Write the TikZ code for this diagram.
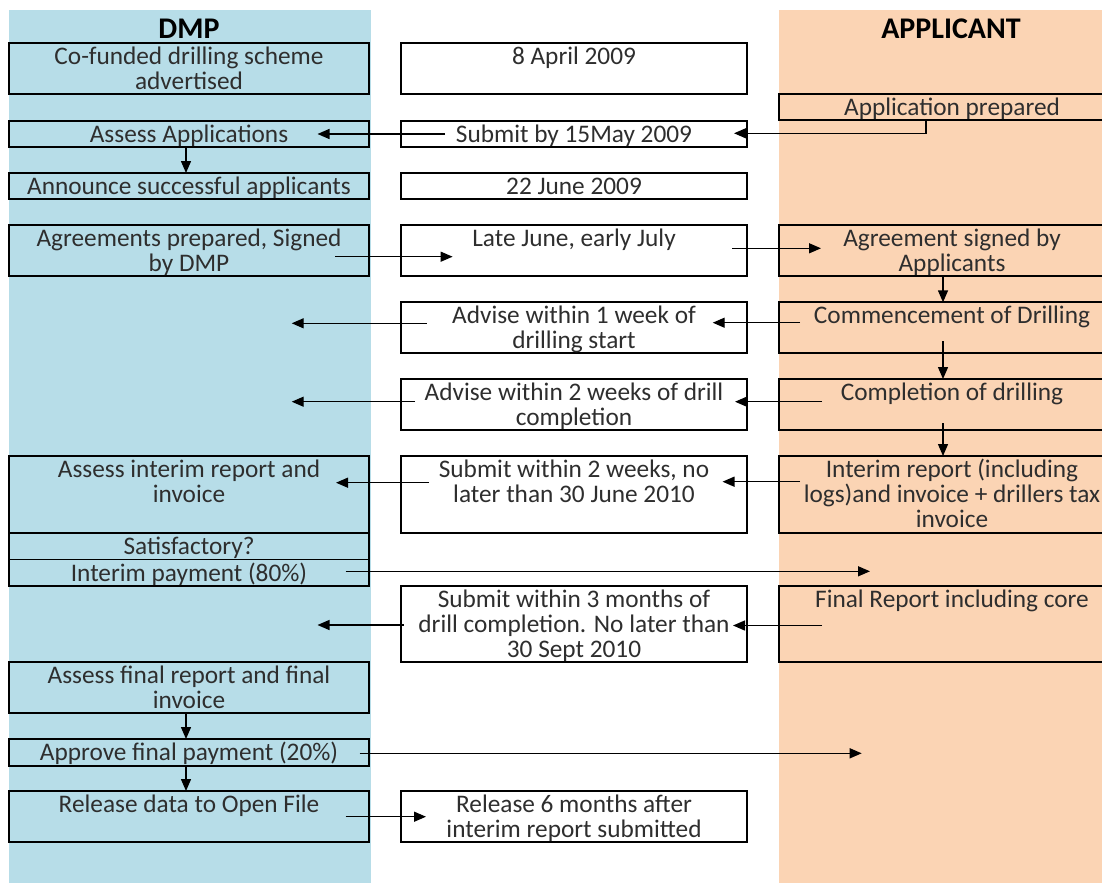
\documentclass[tikz,border=0pt]{standalone}
\usepackage{fontspec}
\setmainfont{Carlito}
\usetikzlibrary{arrows.meta}
\definecolor{dmpblue}{HTML}{B7DDE8}
\definecolor{appor}{HTML}{FBD4B4}
\definecolor{txtgray}{HTML}{2E2E2E}
\newcommand\cellbox[6]{%
  \node[cell, minimum width={#4-#2}, minimum height={#5-#3}] (#1) at ({(#2+#4)/2},{(#3+#5)/2}) {};
  \node[txt] (#1t) at ({(#2+#4)/2},{#3+2.5}) {\rule{0pt}{19pt}#6};
}
\begin{document}
\begin{tikzpicture}[x=1pt,y=-1pt,
  cell/.style={draw=black, line width=1.7pt, inner sep=0pt, outer sep=0pt},
  txt/.style={inner sep=0pt, outer sep=0pt, align=center, text=txtgray, font=\fontsize{25.3}{25}\selectfont, anchor=north},
  head/.style={inner sep=0pt, font=\bfseries\fontsize{30}{30}\selectfont, text=black},
  arr/.style={line width=1.4pt, draw=black, -{Triangle[length=12pt,width=10pt]}},
]
\clip (0,0) rectangle (1102,883);
\fill[white] (0,0) rectangle (1102,883);
\fill[dmpblue] (9,10) rectangle (371,883);
\fill[appor] (779,10) rectangle (1102,883);

\node[head] (hdmp) at (189,28.5) {DMP};
\node[head] (happ) at (951,28.5) {APPLICANT};

% left column
\cellbox{L1}{9}{43.3}{369}{94.3}{Co-funded drilling scheme\\advertised}
\cellbox{L2}{9}{120.7}{369}{146.7}{Assess Applications}
\cellbox{L3}{9}{173}{369}{199}{Announce successful applicants}
\cellbox{L4}{9}{225}{369}{276}{Agreements prepared, Signed\\by DMP}
\cellbox{L7}{9}{456}{369}{533}{Assess interim report and\\invoice}
\cellbox{L8}{9}{533}{369}{559.5}{Satisfactory?}
\cellbox{L9}{9}{559.5}{369}{585.7}{Interim payment (80\%)}
\cellbox{L11}{9}{662}{369}{713}{Assess final report and final\\invoice}
\cellbox{L12}{9}{739}{369}{765.7}{Approve final payment (20\%)}
\cellbox{L13}{9}{791}{369}{842}{Release data to Open File}

% middle column
\cellbox{M1}{401}{43.3}{747}{94.3}{8 April 2009}
\cellbox{M2}{401}{120.7}{747}{146.7}{Submit by 15May 2009}
\cellbox{M3}{401}{173}{747}{199}{22 June 2009}
\cellbox{M4}{401}{225}{747}{276}{Late June, early July}
\cellbox{M5}{401}{302.3}{747}{352.7}{Advise within 1 week of\\drilling start}
\cellbox{M6}{401}{379}{747}{430}{Advise within 2 weeks of drill\\completion}
\cellbox{M7}{401}{456}{747}{533}{Submit within 2 weeks, no\\later than 30 June 2010}
\cellbox{M10}{401}{585.7}{747}{662}{Submit within 3 months of\\drill completion. No later than\\30 Sept 2010}
\cellbox{M13}{401}{791}{747}{842}{Release 6 months after\\interim report submitted}

% right column
\cellbox{R1}{779}{94.3}{1125}{120.3}{Application prepared}
\cellbox{R4}{779}{225}{1125}{276}{Agreement signed by\\Applicants}
\cellbox{R5}{779}{302.3}{1125}{352.7}{Commencement of Drilling}
\cellbox{R6}{779}{379}{1125}{430}{Completion of drilling}
\cellbox{R7}{779}{456}{1125}{533}{Interim report (including\\logs)and invoice + drillers tax\\invoice}
\cellbox{R10}{779}{585.7}{1125}{662}{Final Report including core}

% connector coordinates
\coordinate (xl) at (186,0);
\coordinate (xr) at (943,0);
\coordinate (p1) at (926,133.3);
\coordinate (p1e) at (734,133.3);
\coordinate (p2s) at (445,134);
\coordinate (p2e) at (317.5,134);
\coordinate (p4s) at (335,256.7);
\coordinate (p4e) at (452.6,256.7);
\coordinate (p5s) at (732,248.3);
\coordinate (p5e) at (821,248.3);
\coordinate (p7s) at (800,322.7);
\coordinate (p7e) at (712.7,322.7);
\coordinate (p8s) at (426.7,323.3);
\coordinate (p8e) at (291.7,323.3);
\coordinate (p9s) at (943,341);
\coordinate (p10s) at (822,401.7);
\coordinate (p10e) at (735,401.7);
\coordinate (p11s) at (415,401.7);
\coordinate (p11e) at (291.7,401.7);
\coordinate (p12s) at (943,423.3);
\coordinate (p13s) at (800,481.7);
\coordinate (p13e) at (722.5,481.7);
\coordinate (p14s) at (429,482.7);
\coordinate (p14e) at (336,482.7);
\coordinate (p15s) at (345.6,571.3);
\coordinate (p15e) at (870,571.3);
\coordinate (p16s) at (822,625.5);
\coordinate (p16e) at (733,625.5);
\coordinate (p17s) at (403.5,625);
\coordinate (p17e) at (317.5,625);
\coordinate (p20s) at (359.6,753.3);
\coordinate (p20e) at (861.7,753.3);
\coordinate (p21s) at (345.6,816.7);
\coordinate (p21e) at (426,816.7);

\draw[arr] (R1.south -| p1) -- (p1) -- (p1e);
\draw[arr] (p2s) -- (p2e);
\draw[arr] (L2.south -| xl) -- (L3.north -| xl);
\draw[arr] (p4s) -- (p4e);
\draw[arr] (p5s) -- (p5e);
\draw[arr] (R4.south -| xr) -- (R5.north -| xr);
\draw[arr] (p7s) -- (p7e);
\draw[arr] (p8s) -- (p8e);
\draw[arr] (p9s) -- (R6.north -| xr);
\draw[arr] (p10s) -- (p10e);
\draw[arr] (p11s) -- (p11e);
\draw[arr] (p12s) -- (R7.north -| xr);
\draw[arr] (p13s) -- (p13e);
\draw[arr] (p14s) -- (p14e);
\draw[arr] (p15s) -- (p15e);
\draw[arr] (p16s) -- (p16e);
\draw[arr] (p17s) -- (p17e);
\draw[arr] (L11.south -| xl) -- (L12.north -| xl);
\draw[arr] (L12.south -| xl) -- (L13.north -| xl);
\draw[arr] (p20s) -- (p20e);
\draw[arr] (p21s) -- (p21e);
\end{tikzpicture}
\end{document}
